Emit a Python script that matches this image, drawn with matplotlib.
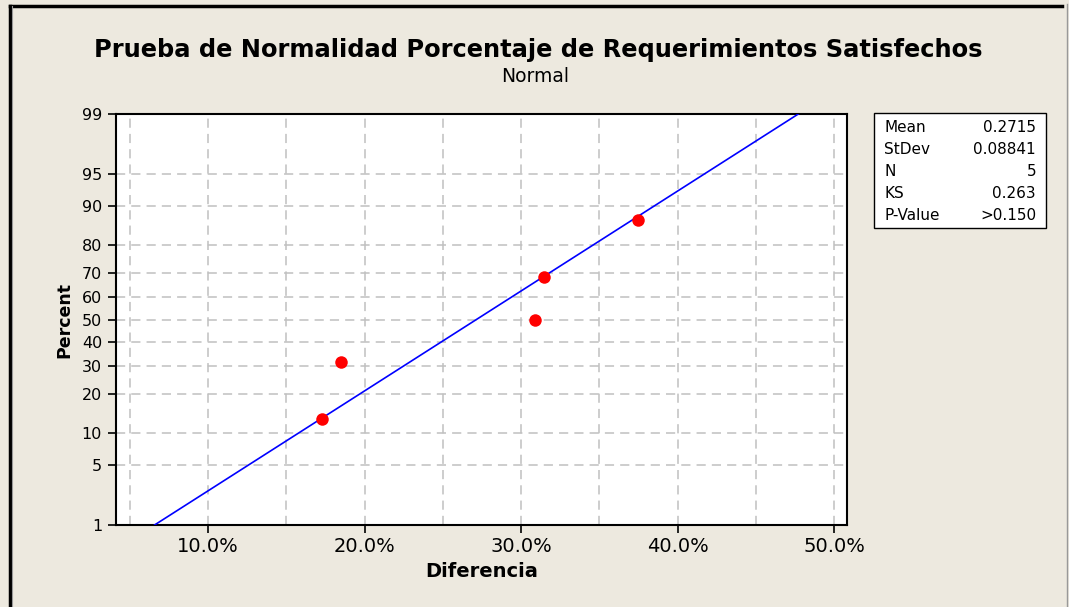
import numpy as np
import matplotlib
matplotlib.use("Agg")
import matplotlib.pyplot as plt
from matplotlib.patches import Rectangle
from matplotlib.lines import Line2D
from statistics import NormalDist

# datos
diferencia = [0.173, 0.185, 0.309, 0.315, 0.375]
percent = [12.96, 31.48, 50.0, 68.52, 87.04]
media = 0.2715
desv = 0.08841
y_ticks = [1, 5, 10, 20, 30, 40, 50, 60, 70, 80, 90, 95, 99]
x_ticks = [0.10, 0.20, 0.30, 0.40, 0.50]
x_grid = [0.05, 0.10, 0.15, 0.20, 0.25, 0.30, 0.35, 0.40, 0.45, 0.50]
stat_names = ["Mean", "StDev", "N", "KS", "P-Value"]
stat_values = ["0.2715", "0.08841", "5", "0.263", ">0.150"]

nd = NormalDist()
def z(p):
    return nd.inv_cdf(np.clip(p, 0.001, 99.999) / 100.0)

fondo = "#EDE9DF"
W, H = 1069, 607
fig = plt.figure(figsize=(W / 100, H / 100), dpi=100, facecolor=fondo)

ax = fig.add_axes([116 / W, 1 - 525 / H, (847 - 116) / W, (525 - 114) / H])
ax.set_facecolor("white")

# linea ajustada (distribucion normal)
p_line = np.linspace(1, 99, 200)
x_line = [NormalDist(media, desv).inv_cdf(p / 100) for p in p_line]
ax.plot(x_line, [z(p) for p in p_line], color="#0000FF", lw=1.2, zorder=3)

ax.plot(diferencia, [z(p) for p in percent], "o", color="#FF0000",
        markersize=9, markeredgewidth=0, zorder=4)

ax.set_xlim(0.0412, 0.5083)
ax.set_ylim(z(1), z(99))

for gx in x_grid:
    ax.axvline(gx, color="#C0C0C0", lw=1.1, ls=(0, (6, 4)), zorder=1)
for gy in y_ticks[1:-1]:
    ax.axhline(z(gy), color="#C0C0C0", lw=1.1, ls=(0, (6, 4)), zorder=1)

ax.set_xticks(x_ticks)
ax.set_xticklabels([f"{v * 100:.1f}%" for v in x_ticks], fontsize=14)
ax.set_yticks([z(v) for v in y_ticks])
ax.set_yticklabels([str(v) for v in y_ticks], fontsize=11.5)
ax.tick_params(axis="both", direction="out", length=6, width=1.2, color="black")
ax.tick_params(axis="x", pad=3)
ax.tick_params(axis="y", pad=4)
for s in ax.spines.values():
    s.set_linewidth(1.5)
    s.set_color("black")

ax.set_xlabel("Diferencia", fontsize=14, fontweight="bold", labelpad=4)
ax.set_ylabel("Percent", fontsize=12.5, fontweight="bold", labelpad=6)

fig.text(538 / W, 1 - 50 / H, "Prueba de Normalidad Porcentaje de Requerimientos Satisfechos",
         ha="center", va="center", fontsize=17.4, fontweight="bold")
fig.text(535 / W, 1 - 77 / H, "Normal", ha="center", va="center", fontsize=13.5)

# cuadro de estadisticos
fig.patches.append(Rectangle((874 / W, 1 - 228 / H), (1046 - 874) / W, (228 - 113) / H,
                             transform=fig.transFigure, facecolor="white",
                             edgecolor="black", lw=1.0))
for i, (n, v) in enumerate(zip(stat_names, stat_values)):
    yy = 1 - (128 + 22 * i) / H
    fig.text(884 / W, yy, n, ha="left", va="center", fontsize=11)
    fig.text(1036 / W, yy, v, ha="right", va="center", fontsize=11)

# marco exterior
fig.lines.append(Line2D([9.5 / W, 1062 / W], [1 - 5.5 / H, 1 - 5.5 / H],
                        transform=fig.transFigure, color="black", lw=2.5))
fig.lines.append(Line2D([9.5 / W, 9.5 / W], [0, 1 - 5.5 / H],
                        transform=fig.transFigure, color="black", lw=2.5))
fig.lines.append(Line2D([11.5 / W, 11.5 / W], [0, 1 - 6 / H],
                        transform=fig.transFigure, color="#999999", lw=0.8))
fig.lines.append(Line2D([1066.5 / W, 1066.5 / W], [0, 1 - 4 / H],
                        transform=fig.transFigure, color="#999999", lw=1.0))

fig.savefig("out.png", dpi=100, facecolor=fondo)
